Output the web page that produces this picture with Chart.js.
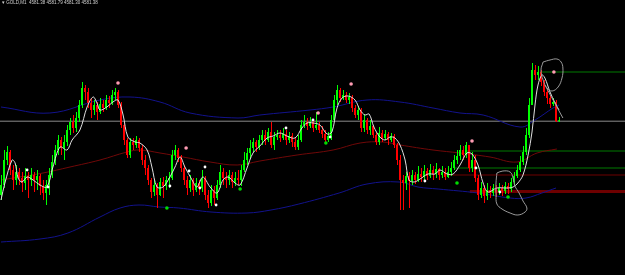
<!DOCTYPE html>
<html>
<head>
<meta charset="utf-8">
<script src="https://cdn.jsdelivr.net/npm/chart.js@4.4.1/dist/chart.umd.min.js"></script>
<style>
  html, body { margin: 0; padding: 0; background: #000; overflow: hidden; }
  #wrap { position: relative; width: 625px; height: 275px; }
  #hdr { position: absolute; left: 2px; top: 0px; font: 4.5px 'Liberation Sans', Arial, sans-serif; color: #d0d0d0; white-space: pre; }
</style>
</head>
<body>
<div id="wrap">
  <canvas id="c" width="625" height="275"></canvas>
  <div id="hdr">▾ GOLD,M1  4581.38 4581.79 4581.30 4581.38</div>
</div>
<script>
// GOLD M1 candles (open of each bar = previous close)
const firstOpen = 4574.0;
const closes = [
  4575.0, 4577.5, 4578.3, 4576.5, 4575.5, 4576.3, 4575.7, 4575.2, 4575.9, 4575.5,
  4576.0, 4575.5, 4575.9, 4574.9, 4574.2, 4575.0, 4576.0, 4577.3, 4578.5, 4579.5,
  4578.7, 4579.3, 4580.5, 4581.3, 4580.7, 4581.7, 4583.0, 4584.7, 4584.3, 4583.2,
  4582.5, 4583.0, 4582.3, 4583.1, 4582.7, 4583.5, 4583.2, 4584.0, 4584.3, 4583.0,
  4581.0, 4579.5, 4578.0, 4579.3, 4579.0, 4579.5, 4578.7, 4577.5, 4576.7, 4575.5,
  4574.3, 4575.0, 4574.0, 4575.3, 4574.9, 4575.5, 4575.7, 4578.0, 4578.5, 4577.7,
  4576.7, 4575.5, 4574.7, 4575.5, 4574.5, 4575.2, 4574.7, 4575.7, 4574.0, 4573.2,
  4574.5, 4573.7, 4575.0, 4576.3, 4575.7, 4575.5, 4576.0, 4575.3, 4575.7, 4575.5,
  4576.5, 4577.5, 4578.2, 4578.7, 4579.3, 4578.8, 4579.5, 4580.0, 4579.5, 4580.3,
  4579.0, 4579.8, 4580.0, 4579.7, 4580.1, 4579.5, 4579.9, 4579.3, 4578.8, 4579.5,
  4581.0, 4581.3, 4580.9, 4581.3, 4580.7, 4581.0, 4580.5, 4580.1, 4579.5, 4579.9,
  4581.5, 4583.5, 4584.5, 4583.7, 4584.0, 4583.5, 4583.8, 4582.7, 4582.0, 4582.5,
  4580.7, 4581.5, 4580.5, 4580.9, 4580.0, 4579.3, 4580.2, 4579.7, 4580.1, 4579.5,
  4579.9, 4579.0, 4577.5, 4575.5, 4575.2, 4575.9, 4575.4, 4576.0, 4575.5, 4576.1,
  4575.8, 4576.4, 4575.9, 4576.5, 4576.1, 4576.6, 4576.0, 4576.3, 4575.8, 4576.3,
  4576.7, 4577.5, 4577.9, 4578.5, 4578.0, 4579.0, 4576.7, 4577.5, 4575.7, 4574.0,
  4574.7, 4573.9, 4574.5, 4574.2, 4574.7, 4574.3, 4574.7, 4574.4, 4574.9, 4574.6,
  4575.3, 4575.9, 4576.5, 4577.3, 4578.3, 4580.0, 4583.0, 4586.5, 4586.0, 4586.3,
  4585.3, 4584.3, 4583.7, 4583.1, 4583.3, 4581.38, 4581.38
];
const highs = [
  4576.0, 4578.5, 4578.9, 4578.5, 4577.0, 4577.0, 4576.7, 4576.3, 4576.7, 4576.3,
  4576.7, 4576.3, 4576.5, 4576.1, 4575.5, 4575.5, 4576.7, 4578.0, 4579.0, 4580.0,
  4579.8, 4580.0, 4581.0, 4581.7, 4582.0, 4582.3, 4583.5, 4585.3, 4585.0, 4584.7,
  4583.7, 4583.5, 4583.3, 4583.7, 4583.5, 4584.0, 4583.9, 4584.5, 4584.7, 4584.5,
  4583.3, 4581.3, 4579.7, 4579.7, 4579.7, 4579.9, 4579.7, 4579.0, 4578.0, 4577.0,
  4575.7, 4575.5, 4575.2, 4575.7, 4575.8, 4575.9, 4576.3, 4578.5, 4579.0, 4578.7,
  4578.0, 4577.0, 4575.9, 4576.0, 4575.7, 4575.7, 4575.5, 4576.5, 4575.9, 4574.5,
  4575.0, 4574.9, 4575.5, 4577.0, 4576.7, 4576.3, 4576.5, 4576.3, 4576.3, 4576.5,
  4577.0, 4578.3, 4578.7, 4579.5, 4579.7, 4579.5, 4580.0, 4580.5, 4580.5, 4580.7,
  4581.3, 4580.3, 4580.5, 4580.5, 4580.7, 4580.5, 4580.3, 4580.2, 4579.7, 4580.0,
  4581.5, 4582.0, 4581.7, 4581.8, 4581.5, 4582.3, 4581.3, 4580.9, 4580.5, 4580.3,
  4582.0, 4584.0, 4585.0, 4584.7, 4584.5, 4584.3, 4584.2, 4584.0, 4583.0, 4582.9,
  4582.7, 4582.1, 4581.7, 4581.5, 4581.0, 4580.3, 4580.8, 4580.5, 4580.5, 4580.3,
  4580.2, 4580.1, 4579.2, 4578.0, 4576.0, 4576.3, 4576.3, 4576.5, 4576.3, 4576.9,
  4576.7, 4577.0, 4576.7, 4577.1, 4576.9, 4577.2, 4576.7, 4576.9, 4576.7, 4576.9,
  4577.3, 4578.0, 4578.5, 4579.0, 4578.9, 4579.3, 4579.0, 4578.3, 4578.0, 4576.0,
  4575.3, 4575.0, 4575.2, 4574.9, 4575.1, 4575.0, 4575.2, 4575.0, 4575.3, 4575.2,
  4575.7, 4576.3, 4577.0, 4577.9, 4578.9, 4580.7, 4583.7, 4587.2, 4587.0, 4586.9,
  4586.5, 4585.5, 4584.7, 4583.9, 4583.7, 4583.5, 4581.79
];
const lows = [
  4573.5, 4574.7, 4577.0, 4576.0, 4574.5, 4575.0, 4575.0, 4574.3, 4574.5, 4573.7,
  4574.9, 4574.3, 4574.5, 4574.0, 4573.5, 4573.0, 4574.0, 4575.7, 4577.0, 4578.0,
  4578.0, 4577.5, 4578.9, 4580.0, 4580.2, 4580.3, 4581.3, 4582.7, 4583.5, 4582.7,
  4581.7, 4582.0, 4581.5, 4582.1, 4582.3, 4582.5, 4582.7, 4583.0, 4583.5, 4582.7,
  4580.7, 4579.0, 4577.7, 4577.7, 4578.5, 4578.7, 4578.3, 4577.0, 4576.0, 4575.0,
  4573.7, 4573.9, 4572.7, 4573.9, 4573.7, 4574.5, 4574.7, 4575.5, 4577.5, 4577.3,
  4576.3, 4575.0, 4574.0, 4574.3, 4573.9, 4574.3, 4574.0, 4574.3, 4573.5, 4572.7,
  4572.9, 4573.0, 4573.5, 4574.7, 4575.0, 4574.7, 4575.0, 4574.7, 4574.9, 4575.0,
  4574.9, 4576.3, 4577.0, 4577.7, 4578.3, 4578.3, 4578.5, 4579.0, 4579.0, 4579.3,
  4578.7, 4578.5, 4579.5, 4579.3, 4579.5, 4579.0, 4579.2, 4578.8, 4578.5, 4578.5,
  4579.3, 4580.7, 4580.5, 4580.7, 4580.3, 4580.5, 4580.2, 4579.7, 4579.2, 4579.3,
  4579.5, 4581.3, 4583.0, 4583.3, 4583.5, 4583.2, 4583.1, 4582.3, 4581.7, 4581.5,
  4580.3, 4580.3, 4580.1, 4580.0, 4579.7, 4579.0, 4579.0, 4579.3, 4579.5, 4579.0,
  4579.3, 4578.7, 4577.0, 4572.5, 4572.5, 4574.5, 4572.7, 4575.0, 4575.1, 4575.3,
  4575.3, 4575.5, 4575.5, 4575.7, 4575.5, 4575.7, 4575.5, 4575.7, 4575.5, 4575.7,
  4575.9, 4576.5, 4577.1, 4577.5, 4577.5, 4577.7, 4576.3, 4576.3, 4575.3, 4573.5,
  4573.7, 4573.2, 4573.5, 4573.7, 4573.9, 4573.8, 4574.0, 4573.9, 4574.1, 4574.1,
  4574.3, 4574.9, 4575.7, 4576.3, 4577.0, 4578.0, 4579.7, 4583.0, 4585.5, 4585.5,
  4584.9, 4583.9, 4583.1, 4582.7, 4582.9, 4581.3, 4581.30
];

// indicator lines, sampled at bar index positions
const fastX = [0, 1.3, 3.7, 4.7, 5.7, 7, 8.7, 10.7, 13, 15.3, 17.3, 19.7, 22, 23.7, 26.3, 28.7, 30.7, 32, 33, 35.3, 37.3, 39, 40.7, 42.3, 44.7, 46.3, 48.7, 50.3, 52, 54, 56.3, 58, 59.7, 61.3, 63.7, 65.3, 67.3, 69.7, 72, 74, 75.7, 78, 79.7, 82, 84, 86.3, 88.7, 90.7, 93, 95.3, 98, 100.3, 102, 104, 106.3, 108.7, 110.3, 112, 113.7, 115.7, 118, 119.7, 121.3, 122.7, 124.3, 126.3, 128, 129.7, 131.3, 133, 134.7, 136, 137.7, 139.7, 142.3, 144.7, 146.3, 148.7, 150.7, 153, 155.3, 157, 159, 160.7, 162.3, 165.3, 168.7, 170.7, 172.3, 174, 175.7, 177, 178, 179, 180.3, 181.3, 183, 184.7, 186];
const fastY = [4573.5, 4575.2, 4577.5, 4577.2, 4575.7, 4575.3, 4575.8, 4575.5, 4575.0, 4574.8, 4576.8, 4578.8, 4578.5, 4579.5, 4580.5, 4582.8, 4583.8, 4583.2, 4582.5, 4582.8, 4583.3, 4583.5, 4582.0, 4579.8, 4579.3, 4579.2, 4578.5, 4576.8, 4574.8, 4574.8, 4575.8, 4576.8, 4577.8, 4576.8, 4575.5, 4574.8, 4575.8, 4574.8, 4574.2, 4575.5, 4575.8, 4575.2, 4575.0, 4576.7, 4578.2, 4578.9, 4579.7, 4579.9, 4580.2, 4579.9, 4579.7, 4580.7, 4581.2, 4581.2, 4581.0, 4580.1, 4580.3, 4582.7, 4583.7, 4583.9, 4583.5, 4582.5, 4582.0, 4582.1, 4580.8, 4579.8, 4579.5, 4579.8, 4579.7, 4579.0, 4577.5, 4575.5, 4575.3, 4575.6, 4576.1, 4576.1, 4576.5, 4576.1, 4576.1, 4577.0, 4578.2, 4578.1, 4577.0, 4575.2, 4574.3, 4574.7, 4574.7, 4574.8, 4575.2, 4576.0, 4578.0, 4580.3, 4583.0, 4585.0, 4586.0, 4585.7, 4584.3, 4583.2, 4582.5];

const midX = [0, 14, 23, 33, 42, 46.3, 53, 60.7, 69.7, 78.7, 86.3, 98.7, 110.7, 119.7, 127.3, 133, 144, 153, 163, 172, 178.7, 185.3];
const midY = [4575.5, 4576.2, 4576.8, 4577.5, 4578.3, 4578.5, 4578.2, 4577.8, 4577.3, 4577.0, 4577.4, 4578.0, 4578.5, 4579.2, 4579.3, 4579.0, 4578.5, 4578.2, 4577.8, 4577.3, 4578.2, 4578.6];

const upX = [0, 16.3, 33, 43, 53, 63, 79, 86.3, 103, 110.7, 122, 133, 144, 153, 160.7, 173, 178, 184, 186];
const upY = [4582.8, 4582.2, 4583.5, 4583.8, 4583.3, 4582.2, 4581.7, 4582.0, 4582.5, 4582.8, 4583.5, 4583.3, 4582.7, 4582.2, 4582.0, 4580.8, 4581.5, 4582.7, 4583.0];

const loX = [0, 13, 22.3, 33, 39.7, 46, 52.7, 59.3, 70, 82, 90, 99.3, 112.7, 122, 132.7, 139, 145.7, 159, 169.7, 175, 180.3, 185];
const loY = [4569.3, 4569.6, 4570.2, 4571.8, 4572.7, 4573.0, 4572.8, 4572.7, 4572.3, 4572.2, 4572.5, 4573.1, 4574.2, 4575.1, 4575.3, 4574.8, 4574.6, 4574.2, 4573.7, 4573.7, 4574.2, 4574.7];

// fractal / signal marks
const upFracX = [39, 61.7, 105.7, 116.7, 157, 184.3];
const upFracY = [4585.2, 4578.7, 4582.2, 4585.1, 4579.4, 4586.3];
const dnFracX = [55.3, 79.7, 108.3, 152, 169];
const dnFracY = [4572.7, 4574.6, 4579.2, 4575.2, 4573.8];
const sigX = [8.7, 15.7, 56.3, 62.7, 66.3, 68, 71.7, 95, 104, 109.7, 141.3, 158.3, 166.3];
const sigY = [4576.5, 4574.8, 4574.9, 4576.4, 4574.7, 4576.8, 4573.0, 4580.7, 4581.5, 4579.8, 4575.4, 4576.7, 4574.3];

// horizontal levels: price and first bar
const lvlGreen = [4586.3, 4578.4, 4576.7];
const lvlGreenFrom = [179.7, 154.7, 151.3];
const lvlRed = [4576.0, 4574.35];
const lvlRedFrom = [148, 156.3];

// hand-drawn marks
const loopTopX = [180.7, 183, 185.3, 186.7, 187.3, 187, 185.7, 183.7, 182, 180.7, 180, 180.7];
const loopTopY = [4587.3, 4587.5, 4587.6, 4587.3, 4586.7, 4585.7, 4584.8, 4584.4, 4584.7, 4585.5, 4586.5, 4587.3];
const tailX = [181.3, 187.3];
const tailY = [4585.0, 4581.7];
const loopBotX = [165.3, 167.3, 169.7, 170.7, 171.3, 172.7, 174, 175.3, 174.7, 172.3, 169.7, 167, 165.3, 165, 165, 165.3];
const loopBotY = [4576.2, 4576.4, 4576.3, 4575.7, 4574.9, 4574.2, 4573.4, 4572.7, 4572.3, 4572.0, 4572.2, 4572.6, 4573.1, 4574.0, 4575.2, 4576.2];

const XMIN = -1 / 3, XMAX = 208;

function pts(xs, ys) { return xs.map((x, k) => ({ x: x, y: ys[k] })); }

function line(data, color, width, order, tension) {
    return {
        type: 'line', data: data, borderColor: color, borderWidth: width,
        pointRadius: 0, pointHoverRadius: 0, tension: tension || 0, fill: false, order: order
    };
}

function dots(data, color, r, order) {
    return {
        type: 'line', data: data, showLine: false, pointRadius: r, pointHoverRadius: r,
        pointBackgroundColor: color, pointBorderWidth: 0, order: order
    };
}

const opens = closes.map((c, i) => i === 0 ? firstOpen : closes[i - 1]);
const colors = closes.map((c, i) => c >= opens[i] ? '#00ff00' : '#ff0000');
const last = closes[closes.length - 1];

const datasets = [
    line(pts([XMIN - 1, XMAX + 2], [last, last]), '#8a8a8a', 1, 20),
    line(pts(upX, upY), '#12128c', 1, 15, 0.4),
    line(pts(loX, loY), '#12128c', 1, 15, 0.4),
    line(pts(midX, midY), '#700808', 1, 15, 0.4),
    {
        type: 'bar', xAxisID: 'xw', order: 6,
        data: closes.map((c, i) => ({ x: i, y: [lows[i], highs[i]] })),
        backgroundColor: colors, barThickness: 1, grouped: false, inflateAmount: 0, minBarLength: 1
    },
    {
        type: 'bar', xAxisID: 'x', order: 5,
        data: closes.map((c, i) => ({ x: i, y: [opens[i], c] })),
        backgroundColor: colors, barThickness: 2, grouped: false, inflateAmount: 0, minBarLength: 1
    },
    line(pts(fastX, fastY), '#e0e0e0', 1, 4, 0.35),
    dots(pts(upFracX, upFracY), '#ff9bb3', 1.8, 3),
    dots(pts(dnFracX, dnFracY), '#00dd00', 1.8, 3),
    dots(pts(sigX, sigY), '#ffffff', 1.4, 3),
    line(pts(loopTopX, loopTopY), '#9a9a9a', 1, 2, 0.4),
    line(pts(tailX, tailY), '#9a9a9a', 1, 2),
    line(pts(loopBotX, loopBotY), '#9a9a9a', 1, 2, 0.4)
];
lvlGreen.forEach((p, k) => datasets.push(line(pts([lvlGreenFrom[k], XMAX + 2], [p, p]), '#007a00', 1, 18)));
lvlRed.forEach((p, k) => datasets.push(line(pts([lvlRedFrom[k], XMAX + 2], [p, p]), '#6e0000', k === 1 ? 3 : 1, 18)));

new Chart(document.getElementById('c').getContext('2d'), {
    type: 'bar',
    data: { datasets: datasets },
    options: {
        responsive: false,
        devicePixelRatio: 1,
        animation: false,
        layout: { padding: 0, autoPadding: false },
        plugins: { legend: { display: false }, tooltip: { enabled: false } },
        scales: {
            x: { type: 'linear', display: false, min: XMIN, max: XMAX, offset: false },
            xw: { type: 'linear', axis: 'x', display: false, min: XMIN - 1 / 6, max: XMAX - 1 / 6, offset: false },
            y: { type: 'linear', display: false, min: 4566.0, max: 4593.5 }
        }
    }
});
</script>
</body>
</html>
